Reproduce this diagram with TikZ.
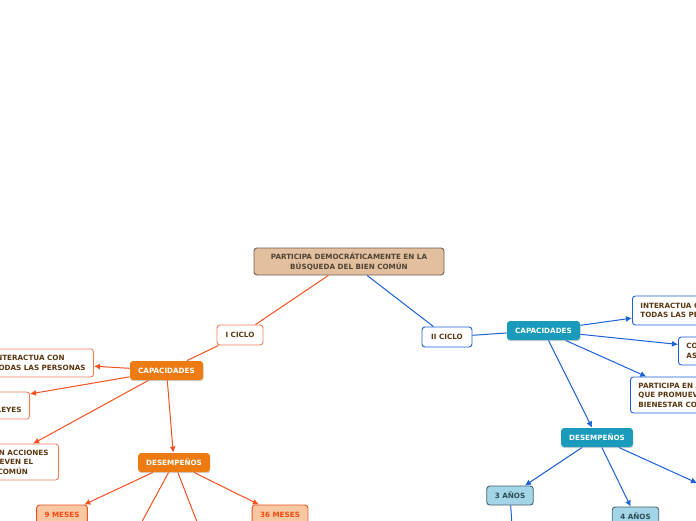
\documentclass[tikz,border=0pt]{standalone}
\usepackage{fontspec}
\setmainfont{DejaVu Sans}
\usepackage{tikz}
\usetikzlibrary{arrows.meta}
\usetikzlibrary{shadows}

\definecolor{rootfill}{HTML}{E2BF9F}
\definecolor{rootline}{HTML}{6E5E4E}
\definecolor{roottext}{HTML}{4F4334}
\definecolor{redline}{HTML}{F4511E}
\definecolor{lightred}{HTML}{F0805C}
\definecolor{blueline}{HTML}{1C62D6}
\definecolor{orfill}{HTML}{EE7B12}
\definecolor{tealfill}{HTML}{1A9BBB}
\definecolor{brtext}{HTML}{5A3812}
\definecolor{peachfill}{HTML}{F8C8A2}
\definecolor{peachtext}{HTML}{F24A12}
\definecolor{skyfill}{HTML}{A2D5E5}
\definecolor{skyline}{HTML}{46606C}
\definecolor{skytext}{HTML}{2F4B58}

\begin{document}
\begin{tikzpicture}[x=1pt,y=-1pt,
  font=\fontsize{7.2}{9.5}\selectfont\bfseries,
  box/.style={rounded corners=3pt, line width=0.9pt, inner xsep=8pt, inner ysep=3pt},
  rootbox/.style={box, draw=rootline, fill=rootfill, text=roottext, align=center,
    minimum width=190pt, minimum height=27pt},
  redbox/.style={box, draw=lightred, fill=white, text=brtext, align=left},
  bluebox/.style={box, draw=blueline, fill=white, text=brtext, align=left},
  orbox/.style={box, draw=none, fill=orfill, text=white, minimum height=19pt,
    drop shadow={shadow xshift=0.5pt, shadow yshift=-1.2pt, fill=black!35}},
  tealbox/.style={box, draw=none, fill=tealfill, text=white, minimum height=19pt,
    drop shadow={shadow xshift=0.5pt, shadow yshift=-1.2pt, fill=black!35}},
  peachbox/.style={box, draw=redline, fill=peachfill, text=peachtext, minimum height=20pt},
  skybox/.style={box, draw=skyline, fill=skyfill, text=skytext, minimum height=19pt},
  redlink/.style={draw=redline, line width=1pt},
  bluelink/.style={draw=blueline, line width=1pt},
  >={Latex[length=6pt,width=6pt]}
]

  \useasboundingbox (0,0) rectangle (696,520);
  \fill[white] (0,0) rectangle (696,520);
  \clip (0,0) rectangle (696,520);

  \node[rootbox] (root) at (349,261.5) {PARTICIPA DEMOCRÁTICAMENTE EN LA\\BÚSQUEDA DEL BIEN COMÚN};

  % I ciclo
  \node[redbox, minimum width=46pt, minimum height=20pt] (c1) at (240,335) {I CICLO};
  \node[orbox, minimum width=73pt] (cap1) at (166.5,370.5) {CAPACIDADES};
  \node[redbox, anchor=east, minimum height=28pt] (i1) at (94,363) {INTERACTUA CON\\TODAS LAS PERSONAS};
  \node[redbox, anchor=east, minimum height=27pt] (l1) at (30,405.5) {CONSTRUYE NORMAS\\Y ASUME ACUERDOS Y LEYES};
  \node[redbox, anchor=east, inner xsep=10pt, minimum height=36pt] (p1) at (59,462) {PARTICIPA EN ACCIONES\\QUE PROMUEVEN EL\\BIENESTAR COMÚN};
  \node[orbox, minimum width=70pt] (des1) at (174,462.5) {DESEMPEÑOS};
  \node[peachbox, minimum width=50pt] (m9) at (62,515) {9 MESES};
  \node[peachbox, minimum width=54pt] (m36) at (280,515) {36 MESES};
  \coordinate (m18) at (132,540);
  \coordinate (m24) at (204,540);

  % II ciclo
  \node[bluebox, minimum width=50pt, minimum height=20pt] (c2) at (447,337) {II CICLO};
  \node[tealbox, minimum width=73pt] (cap2) at (543.5,330.5) {CAPACIDADES};
  \node[bluebox, anchor=west, minimum height=29pt] (i2) at (632,310.5) {INTERACTUA CON\\TODAS LAS PERSONAS};
  \node[bluebox, anchor=west, minimum height=28pt] (l2) at (678,351) {CONSTRUYE NORMAS Y\\ASUME ACUERDOS Y LEYES};
  \node[bluebox, anchor=west, minimum height=36pt] (p2) at (630,395) {PARTICIPA EN ACCIONES\\QUE PROMUEVEN EL\\BIENESTAR COMÚN};
  \node[tealbox, minimum width=68pt] (des2) at (597,437.5) {DESEMPEÑOS};
  \node[skybox, minimum width=46pt] (a3) at (510,495.5) {3 AÑOS};
  \node[skybox, minimum width=45pt] (a4) at (635.5,516.5) {4 AÑOS};
  \coordinate (a5) at (697,483);
  \coordinate (a3b) at (513,540);

%  \draw (m18) node {m18};
%  \draw (a5) node {a5};

  \draw[redlink] (root) -- (c1);
  \draw[redlink] (c1) -- (cap1);
  \draw[redlink, ->] (cap1) -- (i1);
  \draw[redlink, ->] (cap1) -- (l1);
  \draw[redlink, ->] (cap1) -- (p1);
  \draw[redlink, ->] (cap1) -- (des1);
  \draw[redlink, ->] (des1) -- (m9);
  \draw[redlink, ->] (des1) -- (m18);
  \draw[redlink, ->] (des1) -- (m24);
  \draw[redlink, ->] (des1) -- (m36);

  \draw[bluelink] (root) -- (c2);
  \draw[bluelink] (c2) -- (cap2);
  \draw[bluelink, ->] (cap2) -- (i2);
  \draw[bluelink, ->] (cap2) -- (l2);
  \draw[bluelink, ->] (cap2) -- (p2);
  \draw[bluelink, ->] (cap2) -- (des2);
  \draw[bluelink, ->] (des2) -- (a3);
  \draw[bluelink, ->] (des2) -- (a4);
  \draw[bluelink, ->] (des2) -- (a5);
  \draw[bluelink, ->] (a3) -- (a3b);

\end{tikzpicture}
\end{document}
